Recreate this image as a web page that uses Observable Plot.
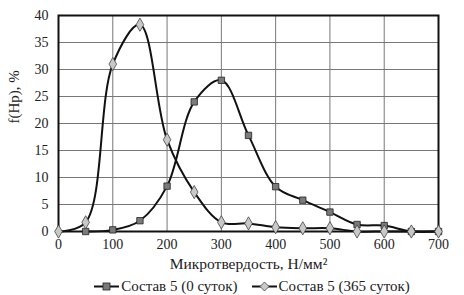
<!DOCTYPE html>
<html><head><meta charset="utf-8">
<script src="https://cdn.jsdelivr.net/npm/d3@7"></script>
<script src="https://cdn.jsdelivr.net/npm/@observablehq/plot@0.6"></script>
<style>
body{margin:0;background:#fff;font-family:"Liberation Serif","Times New Roman",serif;}
#chart{width:464px;}
#legend{display:flex;justify-content:center;align-items:center;gap:14px;font-family:"Liberation Serif",serif;font-size:15px;color:#222;height:18px;margin-left:40px;}
#legend span{display:flex;align-items:center;gap:2px;}
svg text{font-family:"Liberation Serif","Times New Roman",serif;}
</style></head>
<body><div id="chart"></div>
<script>
const xTicks = [0,100,200,300,400,500,600,700];
const yTicks = [0,5,10,15,20,25,30,35,40];
const xTitle = "Микротвердость, Н/мм²";
const yTitle = "f(Hp), %";
const series0Name = "Состав 5 (0 суток)";
const series0X = [50,100,150,200,250,300,350,400,450,500,550,600,650,700];
const series0Y = [0,0.3,2,8.4,24,28,17.8,8.3,5.8,3.6,1.3,1.1,0,0];
const series365Name = "Состав 5 (365 суток)";
const series365X = [0,50,100,150,200,250,300,350,400,450,500,550,600,650,700];
const series365Y = [0,1.7,31,38.3,17,7.3,1.7,1.5,0.8,0.6,0.6,0,0,0,0];

const d0 = series0X.map((x,i)=>({x, y: series0Y[i]}));
const d365 = series365X.map((x,i)=>({x, y: series365Y[i]}));

const font = '"Liberation Serif","Times New Roman",serif';
const chart = Plot.plot({
  width: 464, height: 277,
  marginLeft: 58, marginRight: 26, marginTop: 15, marginBottom: 46,
  style: {fontFamily: font, fontSize: "14px", color: "#222", background: "#fff"},
  x: {domain: [0,700], ticks: xTicks},
  y: {domain: [0,40], ticks: yTicks},
  marks: [
    Plot.gridX(xTicks, {stroke: "#777", strokeOpacity: 1, strokeWidth: 1}),
    Plot.gridY(yTicks, {stroke: "#777", strokeOpacity: 1, strokeWidth: 1}),
    Plot.axisX(xTicks, {tickSize: 0, tickPadding: 8, fontSize: 14, fontFamily: font, label: null}),
    Plot.axisY(yTicks, {tickSize: 0, tickPadding: 10, fontSize: 14, fontFamily: font, label: null}),
    Plot.text([xTitle], {text: d => d, frameAnchor: "bottom", dy: 37, fontSize: 15.5, fontFamily: font, fill: "#222"}),
    Plot.text([yTitle], {text: d => d, frameAnchor: "left", dx: -44, rotate: -90, fontSize: 15, fontFamily: font, fill: "#222"}),
    Plot.line(d0, {x: "x", y: "y", curve: "catmull-rom", stroke: "#111", strokeWidth: 2}),
    Plot.line(d365, {x: "x", y: "y", curve: "catmull-rom", stroke: "#111", strokeWidth: 2}),
    Plot.frame({stroke: "#111", strokeWidth: 2}),
    Plot.dot(d0, {x: "x", y: "y", symbol: "square", r: 3.6, fill: "#7a7a7a", stroke: "#222", strokeWidth: 0.8}),
    Plot.dot(d365, {x: "x", y: "y", symbol: "diamond", r: 4, fill: "#c8c8c8", stroke: "#444", strokeWidth: 0.8})
  ]
});
document.getElementById("chart").appendChild(chart);

const leg = document.createElement("div");
leg.id = "legend";
const mk = (sym, name) => {
  const shape = sym === "square"
    ? '<rect x="9" y="3" width="7" height="7" fill="#7a7a7a" stroke="#222" stroke-width="0.8"/>'
    : '<path d="M12.5 2 L17 6.5 L12.5 11 L8 6.5 Z" fill="#c8c8c8" stroke="#444" stroke-width="0.8"/>';
  return `<span><svg width="25" height="13"><line x1="0" y1="6.5" x2="25" y2="6.5" stroke="#111" stroke-width="2"/>${shape}</svg>${name}</span>`;
};
leg.innerHTML = mk("square", series0Name) + mk("diamond", series365Name);
document.getElementById("chart").appendChild(leg);
</script>
</body></html>
